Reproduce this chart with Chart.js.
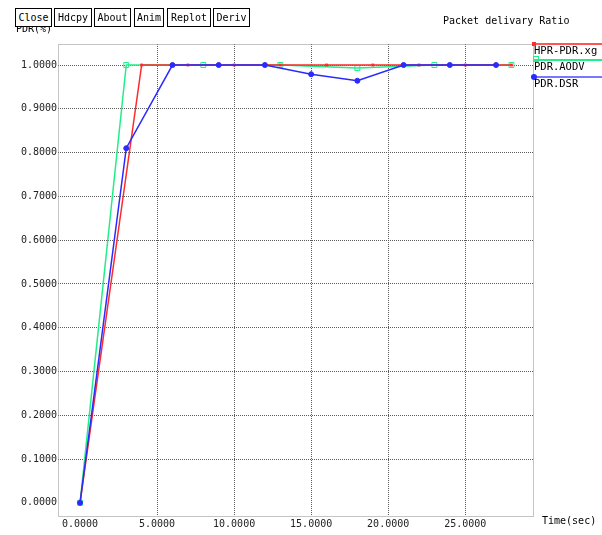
<!DOCTYPE html>
<html>
<head>
<meta charset="utf-8">
<title>Packet delivary Ratio</title>
<script src="https://cdn.jsdelivr.net/npm/chart.js@4"></script>
<style>
    body { margin: 0; background: #fff; }
    #wrap { position: relative; width: 602px; height: 535px; }
    #pdrChart { position: absolute; left: 0; top: 0; }
    .btn {
        position: absolute; top: 8px; height: 17px;
        border: 1px solid #000; background: #fff;
        font: 10px "DejaVu Sans Mono", monospace; line-height: 17px;
        text-align: center; color: #000;
    }
</style>
</head>
<body>
<div id="wrap">
    <canvas id="pdrChart" width="602" height="535"></canvas>
    <div class="btn" style="left:15px;width:35px">Close</div>
    <div class="btn" style="left:54px;width:36px">Hdcpy</div>
    <div class="btn" style="left:94px;width:35px">About</div>
    <div class="btn" style="left:134px;width:28px">Anim</div>
    <div class="btn" style="left:167px;width:42px">Replot</div>
    <div class="btn" style="left:213px;width:35px">Deriv</div>
</div>
<script>
// data
const hprTimes = [0, 4, 7, 10, 13, 16, 19, 22, 25, 28];
const hprPdr   = [0, 1, 1, 1, 1, 1, 1, 1, 1, 1];

const aodvTimes = [0, 3, 8, 13, 18, 23, 28];
const aodvPdr   = [0, 1, 1, 1, 0.993, 1, 1];

const dsrTimes = [0, 3, 6, 9, 12, 15, 18, 21, 24, 27];
const dsrPdr   = [0, 0.81, 1, 1, 1, 0.979, 0.964, 1, 1, 1];

const xTicks = [0, 5, 10, 15, 20, 25];
const yTicks = [0, 0.1, 0.2, 0.3, 0.4, 0.5, 0.6, 0.7, 0.8, 0.9, 1.0];

const seriesNames = ['HPR-PDR.xg', 'PDR.AODV', 'PDR.DSR'];
const seriesColors = ['#ff2a2a', '#22ee88', '#2a2aff'];
const legendColors = ['#ff5555', '#22ee88', '#7777ff'];

const mono = '"DejaVu Sans Mono", monospace';

function toPoints(xs, ys) {
    return xs.map((x, i) => ({ x: x, y: ys[i] }));
}

// frame, title, axis captions and the xgraph style legend
const xgraphDecor = {
    id: 'xgraphDecor',
    beforeDatasetsDraw(chart) {
        const ctx = chart.ctx;
        const a = chart.chartArea;
        ctx.save();
        ctx.strokeStyle = '#888';
        ctx.lineWidth = 1;
        ctx.setLineDash([1, 1]);
        ctx.strokeRect(a.left + 0.5, a.top + 0.5, a.right - a.left, a.bottom - a.top);
        ctx.restore();
    },
    afterDraw(chart) {
        const ctx = chart.ctx;
        const a = chart.chartArea;
        ctx.save();
        ctx.fillStyle = '#000';
        ctx.textBaseline = 'middle';
        ctx.font = '10px ' + mono;
        ctx.fillText('Packet delivary Ratio', 443, 21);
        ctx.fillText('PDR(%)', 16, 29);
        ctx.fillText('Time(sec)', 542, 521);

        // legend at the right edge
        const ys = [44, 60, 77];
        ctx.font = '10.5px ' + mono;
        ctx.textBaseline = 'top';
        seriesNames.forEach((name, i) => {
            const y = ys[i];
            ctx.strokeStyle = legendColors[i];
            ctx.lineWidth = 2;
            ctx.beginPath();
            ctx.moveTo(a.right, y);
            ctx.lineTo(602, y);
            ctx.stroke();
            ctx.lineWidth = 1;
            ctx.strokeStyle = seriesColors[i];
            ctx.fillStyle = seriesColors[i];
            if (i === 0) {
                ctx.fillRect(a.right - 1, y - 2, 4, 4);
            } else if (i === 1) {
                ctx.strokeRect(a.right + 0.5, y - 3.5, 5, 5);
            } else {
                ctx.beginPath();
                ctx.arc(a.right + 1, y, 3, 0, Math.PI * 2);
                ctx.fill();
            }
            ctx.fillStyle = '#000';
            ctx.fillText(name, a.right + 1, y + 2);
        });
        ctx.restore();
    }
};

const ctx = document.getElementById('pdrChart').getContext('2d');
new Chart(ctx, {
    type: 'scatter',
    data: {
        datasets: [{
            label: seriesNames[0],
            data: toPoints(hprTimes, hprPdr),
            showLine: true,
            borderColor: seriesColors[0],
            backgroundColor: seriesColors[0],
            borderWidth: 1.5,
            pointStyle: 'rect',
            pointRadius: 2,
            pointBorderWidth: 0,
            order: 1
        }, {
            label: seriesNames[1],
            data: toPoints(aodvTimes, aodvPdr),
            showLine: true,
            borderColor: seriesColors[1],
            backgroundColor: 'rgba(0,0,0,0)',
            borderWidth: 1.5,
            pointStyle: 'rect',
            pointRadius: 3.5,
            pointBorderWidth: 1,
            order: 2
        }, {
            label: seriesNames[2],
            data: toPoints(dsrTimes, dsrPdr),
            showLine: true,
            borderColor: seriesColors[2],
            backgroundColor: seriesColors[2],
            borderWidth: 1.5,
            pointStyle: 'circle',
            pointRadius: 2.5,
            pointBorderWidth: 1,
            order: 0
        }]
    },
    options: {
        responsive: false,
        animation: false,
        events: [],
        layout: { padding: { top: 44, right: 69, left: 0, bottom: 0 } },
        plugins: {
            legend: { display: false },
            tooltip: { enabled: false }
        },
        scales: {
            x: {
                type: 'linear',
                min: -1.43,
                max: 29.4,
                afterBuildTicks: scale => { scale.ticks = xTicks.map(v => ({ value: v })); },
                afterFit: scale => { scale.height = 19; },
                ticks: {
                    autoSkip: false,
                    maxRotation: 0,
                    padding: 2,
                    color: '#222',
                    font: { family: mono, size: 10 },
                    callback: v => v.toFixed(4)
                },
                grid: {
                    drawTicks: false,
                    color: c => (c.tick && c.tick.value === 0) ? 'rgba(0,0,0,0)' : '#5a5a5a'
                },
                border: { display: false, dash: [1, 1] }
            },
            y: {
                min: -0.030,
                max: 1.048,
                afterBuildTicks: scale => { scale.ticks = yTicks.map(v => ({ value: v })); },
                afterFit: scale => { scale.width = 58; },
                ticks: {
                    autoSkip: false,
                    padding: 1,
                    color: '#222',
                    font: { family: mono, size: 10 },
                    callback: v => v.toFixed(4)
                },
                grid: {
                    drawTicks: false,
                    color: c => (c.tick && c.tick.value === 0) ? 'rgba(0,0,0,0)' : '#5a5a5a'
                },
                border: { display: false, dash: [1, 1] }
            }
        }
    },
    plugins: [xgraphDecor]
});
</script>
</body>
</html>
